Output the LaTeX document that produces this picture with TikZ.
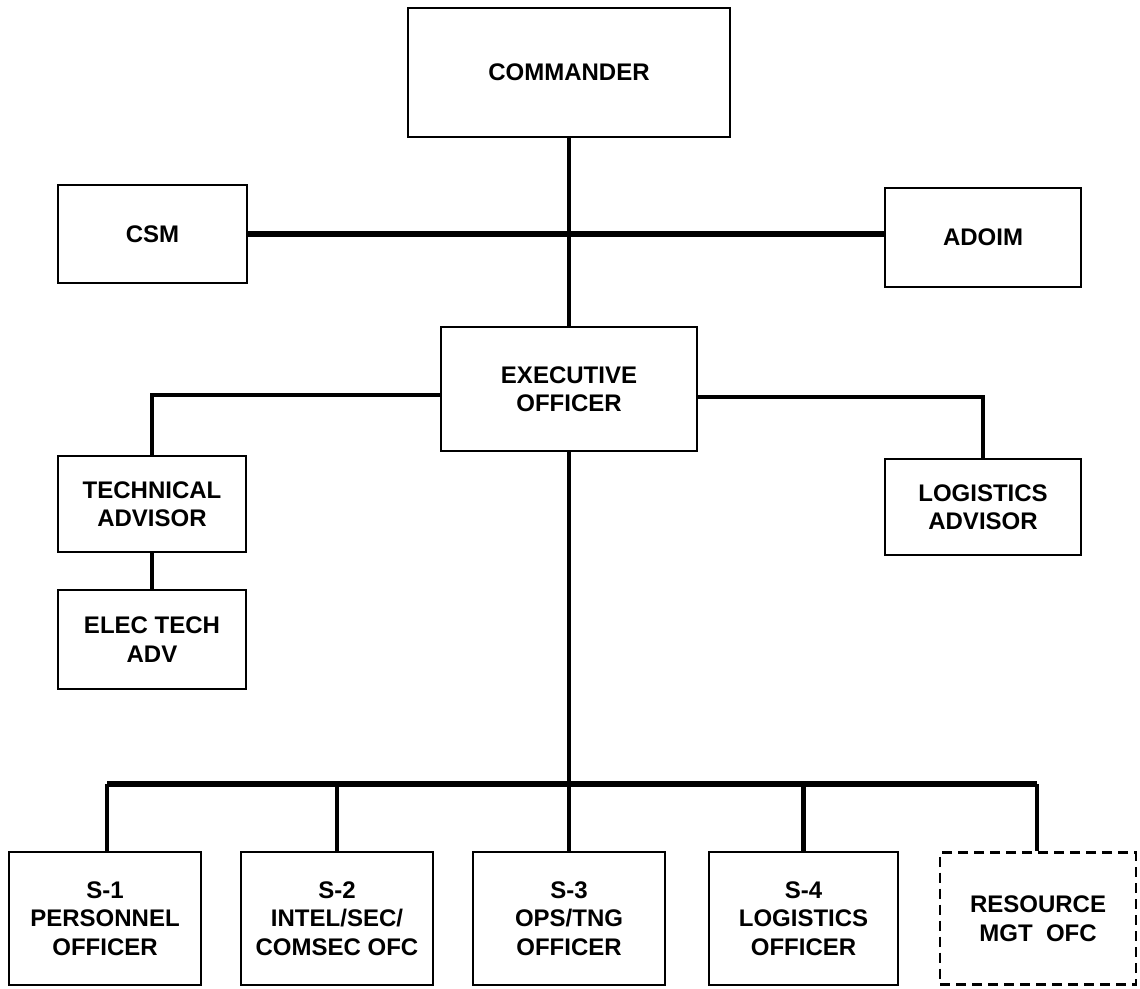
\documentclass[tikz,border=0pt]{standalone}
\usepackage{fontspec}
\setmainfont{Liberation Sans}
\begin{document}
\begin{tikzpicture}[x=1pt,y=-1pt,
  box/.style={draw,line width=2.6pt,rectangle,inner sep=0pt,align=center,
    font=\fontsize{24}{28.5}\selectfont\bfseries},
  dbox/.style={box,dashed,dash pattern=on 10pt off 6pt},
  conn/.style={line width=4.2pt},
  thick conn/.style={line width=5.5pt}]
\useasboundingbox (0,0) rectangle (1140,988);
\fill[white] (0,0) rectangle (1140,988);
% boxes
\node[box,minimum width=322pt,minimum height=129pt] (cmd) at (569,72.5) {\raisebox{-5pt}{COMMANDER}};
\node[box,minimum width=189pt,minimum height=98pt] (csm) at (152.5,234) {CSM};
\node[box,minimum width=196pt,minimum height=99pt] (adoim) at (983,237.5) {ADOIM};
\node[box,minimum width=256pt,minimum height=124pt] (xo) at (569,389) {EXECUTIVE\\OFFICER};
\node[box,minimum width=188pt,minimum height=96pt] (tech) at (152,504) {TECHNICAL\\ADVISOR};
\node[box,minimum width=188pt,minimum height=99pt] (elec) at (152,639.5) {ELEC TECH\\ADV};
\node[box,minimum width=196pt,minimum height=96pt] (logadv) at (983,507) {LOGISTICS\\ADVISOR};
\node[box,minimum width=192pt,minimum height=133pt] (s1) at (105,918.5) {S-1\\PERSONNEL\\OFFICER};
\node[box,minimum width=192pt,minimum height=133pt] (s2) at (337,918.5) {S-2\\INTEL/SEC/\\COMSEC OFC};
\node[box,minimum width=192pt,minimum height=133pt] (s3) at (569,918.5) {S-3\\OPS/TNG\\OFFICER};
\node[box,minimum width=189pt,minimum height=133pt] (s4) at (803.5,918.5) {S-4\\LOGISTICS\\OFFICER};
\node[dbox,minimum width=196pt,minimum height=132pt] (rmo) at (1038,918.5) {RESOURCE\\MGT~~OFC};
% connectors
\coordinate (busL) at (107,784);
\coordinate (busR) at (1037,784);
\draw[conn] (cmd.south) -- (xo.north);
\draw[thick conn] (csm.east) -- (csm.east -| adoim.west);
\draw[conn] ([yshift=-6pt]xo.west) -| (tech.north);
\draw[conn] ([yshift=-8pt]xo.east) -| (logadv.north);
\draw[conn] (tech.south) -- (elec.north);
\draw[conn] (xo.south) -- (s3.north);
\draw[thick conn] (busL) -- (busR);
\draw[conn] (busL) -- (busL |- s1.north);
\draw[conn] (s2.north |- busL) -- (s2.north);
\draw[conn] (s4.north |- busL) -- (s4.north);
\draw[conn] (busR) -- (busR |- rmo.north);
\end{tikzpicture}
\end{document}
